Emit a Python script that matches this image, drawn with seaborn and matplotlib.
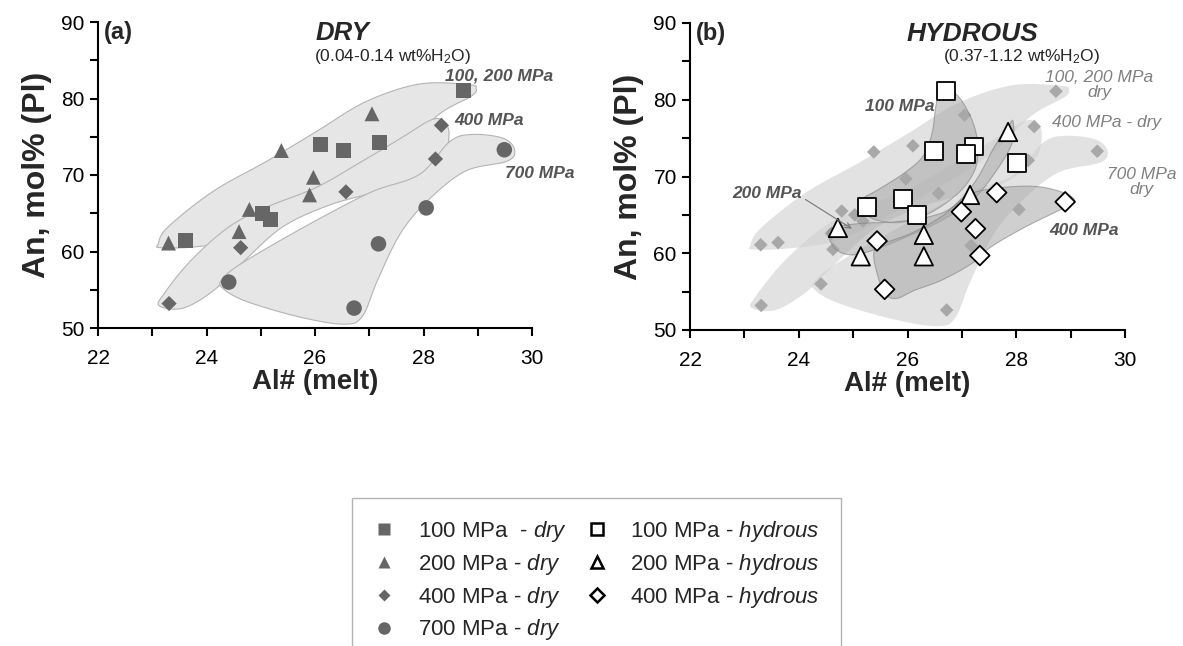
import numpy as np
import pandas as pd
import seaborn as sns
import matplotlib.pyplot as plt
from matplotlib.lines import Line2D
from matplotlib.ticker import MultipleLocator

# Al# (melt) and An mol% (Pl)
dry100_x = [28.73, 26.10, 26.53, 27.19, 25.03, 25.18, 23.62]
dry100_y = [81.1, 74.0, 73.25, 74.3, 65.0, 64.2, 61.4]
dry200_x = [23.30, 24.60, 24.79, 25.38, 25.90, 25.97, 27.05]
dry200_y = [61.1, 62.6, 65.5, 73.2, 67.4, 69.7, 78.0]
dry400_x = [23.31, 24.63, 26.57, 28.22, 28.33]
dry400_y = [53.2, 60.5, 67.8, 72.1, 76.5]
dry700_x = [24.41, 26.72, 27.17, 28.05, 29.49]
dry700_y = [56.0, 52.6, 61.0, 65.7, 73.3]

hyd100_x = [26.71, 26.49, 27.22, 27.07, 28.01, 25.25, 25.91, 26.18]
hyd100_y = [81.15, 73.3, 73.9, 72.9, 71.8, 66.0, 67.05, 65.0]
hyd200_x = [24.72, 25.14, 26.30, 26.30, 27.15, 27.85]
hyd200_y = [63.3, 59.6, 62.4, 59.6, 67.6, 75.8]
hyd400_x = [25.44, 25.58, 26.99, 27.25, 27.33, 27.64, 28.90]
hyd400_y = [61.6, 55.3, 65.4, 63.2, 59.7, 67.9, 66.7]

# hand-drawn field outlines (data units)
field_lo_x = [23.15, 23.78, 24.69, 25.54, 26.52, 27.50, 28.28, 28.88, 28.97,
              28.84, 27.93, 26.94, 26.03, 25.11, 24.13, 23.29, 23.11]
field_lo_y = [60.5, 60.6, 61.6, 64.5, 68.4, 72.7, 77.9, 80.3, 81.3,
              81.8, 81.9, 79.6, 75.7, 71.8, 67.9, 63.2, 61.0]
field_400_x = [23.13, 23.57, 24.13, 24.70, 25.40, 26.24, 27.08, 27.79, 28.35, 28.47,
               28.38, 28.14, 27.58, 26.87, 26.03, 25.11, 24.41, 23.71, 23.22]
field_400_y = [52.9, 52.6, 54.9, 58.8, 63.2, 66.0, 67.7, 69.2, 72.3, 75.3,
               77.0, 77.2, 74.8, 71.8, 68.4, 65.8, 63.2, 58.8, 54.5]
field_700_x = [24.27, 24.69, 25.68, 26.52, 26.87, 27.15, 27.57, 28.07, 28.77, 29.54, 29.68,
               29.47, 28.91, 28.49, 27.93, 27.08, 26.24, 25.25, 24.55, 24.31]
field_700_y = [55.4, 53.6, 51.5, 50.5, 51.5, 56.2, 62.3, 66.6, 70.5, 71.8, 73.3,
               74.8, 75.3, 74.4, 70.1, 67.9, 64.9, 61.0, 58.0, 56.5]
hfield_100_x = [26.66, 26.94, 27.19, 27.29, 27.26, 27.05, 26.70, 26.28, 25.86, 25.44,
                25.19, 25.19, 25.44, 25.93, 26.28, 26.45, 26.52, 26.59]
hfield_100_y = [81.6, 80.4, 77.3, 74.3, 71.3, 68.7, 66.5, 64.8, 64.0, 64.3,
                65.4, 67.1, 68.2, 70.4, 72.6, 75.6, 79.1, 81.2]
hfield_200_x = [27.94, 27.92, 27.60, 27.19, 26.63, 26.07, 25.37, 24.95, 24.67, 24.54,
                24.67, 25.16, 25.79, 26.42, 26.84, 27.26, 27.60, 27.85]
hfield_200_y = [77.2, 74.3, 70.4, 66.9, 64.3, 62.4, 60.4, 59.8, 60.6, 62.6,
                63.4, 63.9, 64.1, 64.8, 66.1, 69.5, 73.9, 76.5]
hfield_400_x = [27.12, 27.67, 28.37, 28.90, 29.07, 28.79, 28.16, 27.53, 27.19, 26.63,
                26.14, 25.79, 25.58, 25.44, 25.38, 25.51, 26.07, 26.63]
hfield_400_y = [67.6, 68.5, 68.7, 67.8, 66.7, 65.6, 63.4, 60.8, 58.7, 56.5,
                55.2, 54.1, 54.8, 57.4, 60.0, 61.1, 62.6, 64.8]


def smooth(xs, ys, n=16):
    # closed Catmull-Rom curve through the outline vertices
    p = np.column_stack([xs, ys])
    m = len(p)
    out = []
    for i in range(m):
        p0, p1, p2, p3 = p[i - 1], p[i], p[(i + 1) % m], p[(i + 2) % m]
        for t in np.linspace(0, 1, n, endpoint=False):
            t2, t3 = t * t, t * t * t
            out.append(0.5 * (2 * p1 + (-p0 + p2) * t + (2 * p0 - 5 * p1 + 4 * p2 - p3) * t2
                              + (-p0 + 3 * p1 - 3 * p2 + p3) * t3))
    out = np.array(out)
    return out[:, 0], out[:, 1]


def frame(xs, ys, label):
    return pd.DataFrame({'al': xs, 'an': ys, 'P': label})


dry = pd.concat([frame(dry100_x, dry100_y, '100'), frame(dry200_x, dry200_y, '200'),
                 frame(dry400_x, dry400_y, '400'), frame(dry700_x, dry700_y, '700')])
hyd = pd.concat([frame(hyd100_x, hyd100_y, '100'), frame(hyd200_x, hyd200_y, '200'),
                 frame(hyd400_x, hyd400_y, '400')])

sns.set_style('white')
plt.rcParams['font.family'] = ['Liberation Sans', 'DejaVu Sans']
plt.rcParams['mathtext.fontset'] = 'custom'
plt.rcParams['mathtext.rm'] = 'Liberation Sans'
plt.rcParams['mathtext.it'] = 'Liberation Sans:italic'
plt.rcParams['mathtext.bf'] = 'Liberation Sans:bold'

fig = plt.figure(figsize=(11.83, 6.46), dpi=100)
ax1 = fig.add_axes([98 / 1183, 1 - 328 / 646, 434 / 1183, 306 / 646])
ax2 = fig.add_axes([690 / 1183, 1 - 330 / 646, 435 / 1183, 307 / 646])

dark = '#666666'
mk = {'100': 's', '200': '^', '400': 'D', '700': 'o'}
sz = {'100': 115, '200': 115, '400': 60, '700': 125}

# (a) dry
for fx, fy in [(field_lo_x, field_lo_y), (field_400_x, field_400_y), (field_700_x, field_700_y)]:
    sx, sy = smooth(fx, fy)
    ax1.fill(sx, sy, facecolor='#e6e6e6', edgecolor='#b4b4b4', lw=0.8, zorder=0.5)
sns.scatterplot(data=dry, x='al', y='an', style='P', markers=mk, size='P', sizes=sz,
                color=dark, edgecolor='none', legend=False, ax=ax1, zorder=3)

# (b) hydrous, with dry fields behind
for fx, fy in [(field_lo_x, field_lo_y), (field_400_x, field_400_y), (field_700_x, field_700_y)]:
    sx, sy = smooth(fx, fy)
    ax2.fill(sx, sy, facecolor='#d0d0d0', alpha=0.6, edgecolor='none', zorder=0.5)
sns.scatterplot(data=dry, x='al', y='an', marker='D', s=48, color='#a8a8a8',
                edgecolor='none', legend=False, ax=ax2, zorder=1)
for fx, fy in [(hfield_100_x, hfield_100_y), (hfield_200_x, hfield_200_y), (hfield_400_x, hfield_400_y)]:
    sx, sy = smooth(fx, fy)
    ax2.fill(sx, sy, facecolor='#a8a8a8', alpha=0.55, edgecolor='#7a7a7a', lw=0.8, zorder=2)
hmk = {'100': 's', '200': '^', '400': 'D'}
hsz = {'100': 165, '200': 175, '400': 100}
sns.scatterplot(data=hyd, x='al', y='an', style='P', markers=hmk, size='P', sizes=hsz,
                color='white', edgecolor='black', linewidth=1.3, legend=False, ax=ax2, zorder=3)

for ax in (ax1, ax2):
    ax.set_xlim(22, 30)
    ax.set_ylim(50, 90)
    ax.xaxis.set_major_locator(MultipleLocator(2))
    ax.xaxis.set_minor_locator(MultipleLocator(1))
    ax.yaxis.set_major_locator(MultipleLocator(10))
    ax.yaxis.set_minor_locator(MultipleLocator(5))
    ax.tick_params(which='both', direction='out', length=6, width=1.5, colors='black',
                   labelsize=15, bottom=True, left=True)
    ax.tick_params(axis='x', pad=9)
    for s in ('top', 'right'):
        ax.spines[s].set_visible(False)
    for s in ('left', 'bottom'):
        ax.spines[s].set_color('black')
        ax.spines[s].set_linewidth(1.5)
    ax.set_xlabel('Al# (melt)', fontsize=20, fontweight='bold', labelpad=1)
    ax.set_ylabel('An, mol% (Pl)', fontsize=23, fontweight='bold', labelpad=7)

lab = dict(fontsize=12.5, fontweight='bold', fontstyle='italic', color='#555555', ha='center', va='center')
ax1.text(22.1, 88.6, '(a)', fontsize=17, fontweight='bold', va='center')
ax1.text(26.5, 88.5, 'DRY', fontsize=18.5, fontweight='bold', fontstyle='italic', ha='center', va='center')
ax1.text(27.43, 85.5, '(0.04-0.14 wt%H$_2$O)', fontsize=12.5, ha='center', va='center')
ax1.text(29.4, 83.0, '100, 200 MPa', **lab)
ax1.text(29.2, 77.1, '400 MPa', **lab)
ax1.text(30.15, 70.2, '700 MPa', **lab)

ax2.text(22.1, 88.6, '(b)', fontsize=17, fontweight='bold', va='center')
ax2.text(27.2, 88.6, 'HYDROUS', fontsize=19, fontweight='bold', fontstyle='italic', ha='center', va='center')
ax2.text(28.09, 85.6, '(0.37-1.12 wt%H$_2$O)', fontsize=12.5, ha='center', va='center')
lite = dict(fontsize=12.5, fontstyle='italic', color='#808080', ha='center', va='center')
ax2.text(29.53, 81.9, '100, 200 MPa\ndry', linespacing=1.0, **lite)
ax2.text(29.67, 77.0, '400 MPa - dry', **lite)
ax2.text(30.3, 69.3, '700 MPa\ndry', linespacing=1.0, **lite)
ax2.text(25.86, 79.1, '100 MPa', **lab)
ax2.text(23.41, 67.8, '200 MPa', **lab)
ax2.text(29.25, 63.0, '400 MPa', **lab)
ax2.annotate('', xy=(25.02, 63.0), xytext=(24.08, 67.2),
             arrowprops=dict(arrowstyle='->', color='#777777', lw=0.8))

handles = [Line2D([], [], ls='none', marker=m, ms=ms, color=dark, mec='none')
           for m, ms in [('s', 9), ('^', 9), ('D', 6.5), ('o', 9)]]
handles += [Line2D([], [], ls='none', marker=m, ms=ms, mfc='white', mec='black', mew=1.8)
            for m, ms in [('s', 8.5), ('^', 8.5), ('D', 7.5)]]
labels = ['100 MPa  - $\\mathit{dry}$', '200 MPa - $\\mathit{dry}$',
          '400 MPa - $\\mathit{dry}$', '700 MPa - $\\mathit{dry}$',
          '100 MPa - $\\mathit{hydrous}$', '200 MPa - $\\mathit{hydrous}$',
          '400 MPa - $\\mathit{hydrous}$']
leg = fig.legend(handles, labels, ncol=2, loc='upper left',
                 bbox_to_anchor=(352 / 1183, 1 - 498 / 646), borderaxespad=0, fontsize=16,
                 frameon=True, fancybox=False, edgecolor='#a0a0a0', borderpad=0.95,
                 labelspacing=0.35, handlelength=1.0, handletextpad=1.0, columnspacing=0.85)
leg.get_frame().set_linewidth(1.0)

fig.savefig('out.png', dpi=100)
